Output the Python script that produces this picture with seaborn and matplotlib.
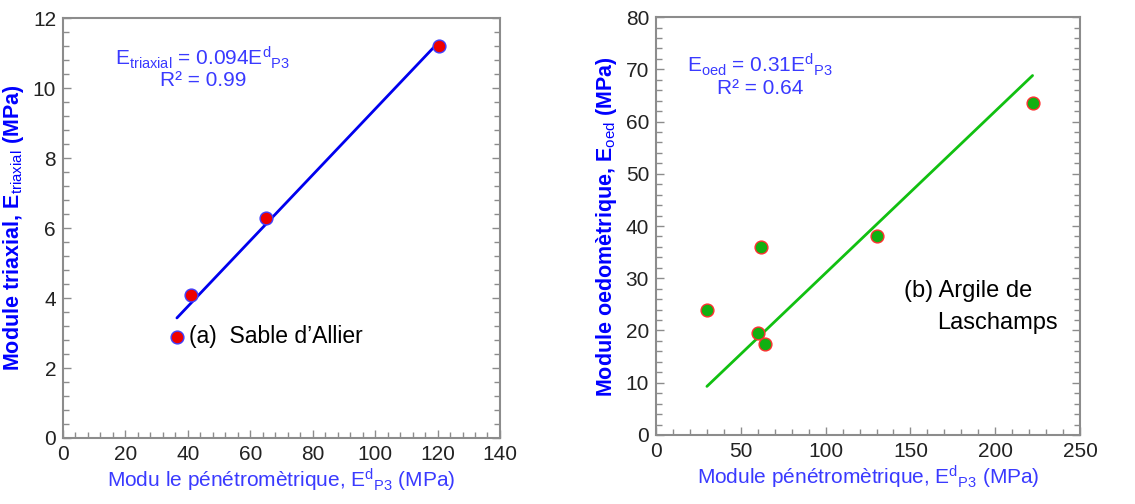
import numpy as np
import matplotlib
matplotlib.use("Agg")
import matplotlib.pyplot as plt
import seaborn as sns
import pandas as pd
from matplotlib.ticker import MultipleLocator

# ---- data ----
sable_x = [36.5, 41, 65, 120.5]
sable_y = [2.9, 4.1, 6.3, 11.2]
sable_slope = 0.094
argile_x = [30, 60, 62, 64, 130, 222]
argile_y = [24, 19.5, 36, 17.5, 38, 63.5]
argile_slope = 0.31

sns.set_theme(style="white")
plt.rcParams['font.family'] = ['Liberation Sans', 'DejaVu Sans']
plt.rcParams['mathtext.fontset'] = 'custom'
plt.rcParams['mathtext.rm'] = 'Liberation Sans'
plt.rcParams['mathtext.it'] = 'Liberation Sans'
plt.rcParams['mathtext.bf'] = 'Liberation Sans:bold'

fig = plt.figure(figsize=(11.35, 5.04), dpi=100)
ax1 = fig.add_axes([0.0555, 0.131, 0.385, 0.833])
ax2 = fig.add_axes([0.578, 0.137, 0.3736, 0.829])

BLUE = '#0000ff'
TXTBLUE = '#3a3aff'
GRAY = '#8c8c8c'


def style(ax, xmax, xmaj, xmin, ymax, ymaj, ymin):
    ax.set_xlim(0, xmax)
    ax.set_ylim(0, ymax)
    ax.xaxis.set_major_locator(MultipleLocator(xmaj))
    ax.xaxis.set_minor_locator(MultipleLocator(xmin))
    ax.yaxis.set_major_locator(MultipleLocator(ymaj))
    ax.yaxis.set_minor_locator(MultipleLocator(ymin))
    for s in ax.spines.values():
        s.set_color(GRAY)
        s.set_linewidth(1.5)
        s.set_visible(True)
    ax.tick_params(which='both', direction='in', color=GRAY, top=False, right=True,
                   bottom=True, left=True)
    ax.tick_params(which='major', length=6, width=1, labelsize=15, labelcolor='#222222', pad=5)
    ax.tick_params(which='minor', length=4, width=1)
    ax.grid(False)


# ---- left panel ----
df1 = pd.DataFrame({'x': sable_x, 'y': sable_y})
lx = np.array([min(sable_x), max(sable_x)])
sns.lineplot(x=lx, y=sable_slope * lx, ax=ax1, color='#0000ee', linewidth=2)
sns.scatterplot(data=df1, x='x', y='y', ax=ax1, color='#ee0000', edgecolor='#4040ff',
                linewidth=1, s=85, zorder=5)
style(ax1, 140, 20, 4, 12, 2, 0.4)
ax1.set_xlabel(r"Modu le pénétromètrique, E$^{\mathrm{d}}$$_{\mathrm{P3}}$ (MPa)", color=TXTBLUE,
               fontsize=15, labelpad=2)
ax1.set_ylabel(r"Module triaxial, E$_{\mathrm{triaxial}}$ (MPa)", color=BLUE, fontsize=15.5,
               fontweight='bold', labelpad=5)
ax1.text(0.32, 0.905, r"E$_{\mathrm{triaxial}}$ = 0.094E$^{\mathrm{d}}$$_{\mathrm{P3}}$",
         transform=ax1.transAxes, color=TXTBLUE, fontsize=15, ha='center', va='center')
ax1.text(0.32, 0.852, "R² = 0.99", transform=ax1.transAxes, color=TXTBLUE, fontsize=15,
         ha='center', va='center')
ax1.text(40.5, 2.9, "(a)  Sable d\u2019Allier", color='black', fontsize=16.5, va='center', ha='left')

# ---- right panel ----
df2 = pd.DataFrame({'x': argile_x, 'y': argile_y})
rx = np.array([min(argile_x), max(argile_x)])
sns.lineplot(x=rx, y=argile_slope * rx, ax=ax2, color='#11c011', linewidth=2)
sns.scatterplot(data=df2, x='x', y='y', ax=ax2, color='#11b011', edgecolor='#ff3030',
                linewidth=1, s=85, zorder=5)
style(ax2, 250, 50, 10, 80, 10, 2)
ax2.set_xlabel(r"Module pénétromètrique, E$^{\mathrm{d}}$$_{\mathrm{P3}}$ (MPa)", color=TXTBLUE,
               fontsize=15, labelpad=2)
ax2.set_ylabel(r"Module oedomètrique, E$_{\mathrm{oed}}$ (MPa)", color=BLUE, fontsize=15.5,
               fontweight='bold', labelpad=5)
ax2.text(0.245, 0.885, r"E$_{\mathrm{oed}}$ = 0.31E$^{\mathrm{d}}$$_{\mathrm{P3}}$",
         transform=ax2.transAxes, color=TXTBLUE, fontsize=15, ha='center', va='center')
ax2.text(0.245, 0.83, "R² = 0.64", transform=ax2.transAxes, color=TXTBLUE, fontsize=15,
         ha='center', va='center')
ax2.text(146, 27.5, "(b) Argile de", color='black', fontsize=17, va='center', ha='left')
ax2.text(166, 21.5, "Laschamps", color='black', fontsize=17, va='center', ha='left')

fig.savefig("out.png", dpi=100)
